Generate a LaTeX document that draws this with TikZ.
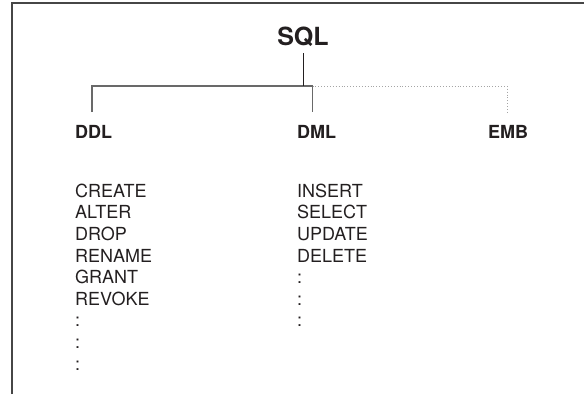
\documentclass[tikz,border=0pt]{standalone}
\usepackage{fontspec}
\setmainfont{TeX Gyre Heros}
\usetikzlibrary{positioning}
\definecolor{inkblack}{RGB}{35,31,32}
\definecolor{framegray}{RGB}{70,70,70}
\definecolor{treegray}{RGB}{105,105,105}
\definecolor{dotgray}{RGB}{165,165,165}
\tikzstyle{branch} = [line width=1.2pt, color=treegray]
\tikzstyle{ghost} = [line width=0.9pt, color=dotgray, dotted]
\tikzstyle{group} = [anchor=base west, inner sep=0pt, text=inkblack, font=\fontsize{18}{21.6}\selectfont\bfseries]
\tikzstyle{cmd} = [anchor=base west, inner sep=0pt, text=inkblack, font=\fontsize{18}{21.6}\selectfont]

\begin{document}
\begin{tikzpicture}[x=1pt,y=-1pt]
\useasboundingbox (0,0) rectangle (584,394);
% Frame
\draw[framegray, line width=1.4pt] (12,394) -- (12,3) -- (584,3);

% Root
\node[anchor=base, inner sep=0pt, text=inkblack, font=\fontsize{25}{30}\selectfont\bfseries] (sql) at (303,45) {SQL};

% Groups
\node[group] (ddl) at (75,138) {DDL};
\node[group] (dml) at (297,138) {DML};
\node[group] (emb) at (488,138) {EMB};

% Tree
\coordinate (sqlfoot) at (303,53);
\coordinate (join) at (303,86);
\coordinate (ddltop) at (92,112);
\coordinate (dmltop) at (312.5,112);
\coordinate (embtop) at (507,112);
\draw[branch] (ddltop) |- (dmltop |- join) -- (dmltop);
\draw[ghost] (dmltop |- join) -| (embtop);
\draw[inkblack, line width=0.8pt] (sqlfoot) -- (join);

% Statements
\foreach \cmd [count=\i from 0] in {CREATE,ALTER,DROP,RENAME,GRANT,REVOKE,:,:,:}
    \node[cmd] (ddl-\i) at (75,197.3+21.6*\i) {\cmd};
\foreach \cmd [count=\i from 0] in {INSERT,SELECT,UPDATE,DELETE,:,:,:}
    \node[cmd] (dml-\i) at (297,197.3+21.6*\i) {\cmd};
\end{tikzpicture}
\end{document}
